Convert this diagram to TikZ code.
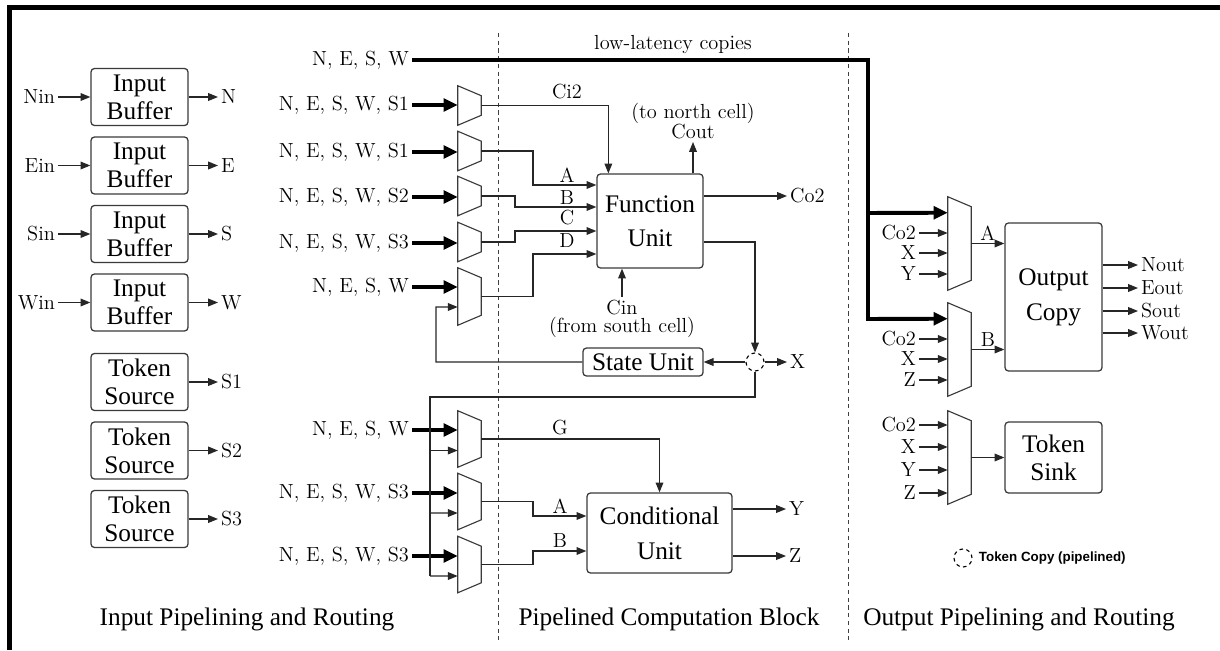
\documentclass[tikz,border=0pt]{standalone}
\usepackage{fontspec}
\newfontfamily\timesfont{Liberation Serif}
\newfontfamily\legendfont{Liberation Sans}
\usepackage{tikz}
\usetikzlibrary{arrows.meta, calc, positioning}
\definecolor{wirecol}{HTML}{262626}
\definecolor{boxline}{HTML}{3A3A3A}

\begin{document}
\begin{tikzpicture}[x=0.025cm, y=-0.025cm,
    box/.style={draw=boxline, rounded corners=2.5pt, line width=0.9pt, align=center, inner sep=0pt, font=\timesfont\fontsize{18}{20}\selectfont},
    lbl/.style={font=\fontsize{14.5}{16}\selectfont, inner sep=2pt},
    sectitle/.style={font=\timesfont\fontsize{18}{20}\selectfont, anchor=base},
    muxline/.style={draw=boxline, line width=0.8pt},
    mux/.style={minimum width=0.575cm, minimum height=#1, inner sep=0pt,
        append after command={\pgfextra{\draw[muxline] (\tikzlastnode.north west) -- ($(\tikzlastnode.north east)+(0,10)$) -- ($(\tikzlastnode.south east)+(0,-10)$) -- (\tikzlastnode.south west) -- cycle;}}},
    wire/.style={draw=wirecol, line width=0.8pt},
    arrow/.style={wire, -{Triangle[length=7pt, width=5.5pt]}},
    bus/.style={draw=black, line width=2.8pt},
    busarrow/.style={bus, -{Triangle[length=10pt, width=9pt]}},
    divider/.style={draw=black!75, line width=0.7pt, dash pattern=on 3pt off 2.5pt},
    tokcopy/.style={circle, draw=black, line width=0.8pt, dash pattern=on 2.5pt off 2.5pt, minimum size=0.45cm, inner sep=0pt}
]
\useasboundingbox (0,0) rectangle (1220,650);
% frame and section dividers
\draw[line width=3.6pt] (9.5,650) -- (9.5,7.5) -- (1220,7.5);
\draw[divider] (498,33) -- (498,640);
\draw[divider] (848,33) -- (848,640);

% input buffers and token sources
\node[box, minimum width=2.425cm, minimum height=1.425cm] (bufN) at (139.5,97) {Input\\Buffer};
\node[box, minimum width=2.425cm, minimum height=1.425cm] (bufE) at (139.5,165.5) {Input\\Buffer};
\node[box, minimum width=2.425cm, minimum height=1.425cm] (bufS) at (139.5,234) {Input\\Buffer};
\node[box, minimum width=2.425cm, minimum height=1.425cm] (bufW) at (139.5,302.5) {Input\\Buffer};
\node[box, minimum width=2.425cm, minimum height=1.425cm] (src1) at (139.5,382) {Token\\Source};
\node[box, minimum width=2.425cm, minimum height=1.425cm] (src2) at (139.5,450.5) {Token\\Source};
\node[box, minimum width=2.425cm, minimum height=1.425cm] (src3) at (139.5,519) {Token\\Source};

\node[lbl, anchor=east] (nin) at (58,97) {Nin};
\node[lbl, anchor=east] (ein) at (58,165.5) {Ein};
\node[lbl, anchor=east] (sin) at (58,234) {Sin};
\node[lbl, anchor=east] (win) at (58,302.5) {Win};
\node[lbl, anchor=west] (nbuf) at (218,97) {N};
\node[lbl, anchor=west] (ebuf) at (218,165.5) {E};
\node[lbl, anchor=west] (sbuf) at (218,234) {S};
\node[lbl, anchor=west] (wbuf) at (218,302.5) {W};
\node[lbl, anchor=west] (s1) at (218,382) {S1};
\node[lbl, anchor=west] (s2) at (218,450.5) {S2};
\node[lbl, anchor=west] (s3) at (218,519) {S3};

\draw[arrow] (nin) -- (bufN);
\draw[arrow] (ein) -- (bufE);
\draw[arrow] (sin) -- (bufS);
\draw[arrow] (win) -- (bufW);
\draw[arrow] (bufN) -- (nbuf);
\draw[arrow] (bufE) -- (ebuf);
\draw[arrow] (bufS) -- (sbuf);
\draw[arrow] (bufW) -- (wbuf);
\draw[arrow] (src1) -- (s1);
\draw[arrow] (src2) -- (s2);
\draw[arrow] (src3) -- (s3);

% routing muxes
\node[lbl, anchor=east] (lowin) at (412,60) {N, E, S, W};
\node[lbl] (lowlbl) at (673,45) {low-latency copies};
\node[lbl, anchor=east] (in1) at (412,105) {N, E, S, W, S1};
\node[lbl, anchor=east] (in2) at (412,152) {N, E, S, W, S1};
\node[lbl, anchor=east] (in3) at (412,197) {N, E, S, W, S2};
\node[lbl, anchor=east] (in4) at (412,243) {N, E, S, W, S3};
\node[lbl, anchor=east] (in5) at (412,287) {N, E, S, W};
\node[lbl, anchor=east] (in6) at (412,430) {N, E, S, W};
\node[lbl, anchor=east] (in7) at (412,493) {N, E, S, W, S3};
\node[lbl, anchor=east] (in8) at (412,556) {N, E, S, W, S3};

\node[mux=0.975cm] (mux1) at (469.5,105.5) {};
\node[mux=0.975cm] (mux2) at (469.5,151) {};
\node[mux=0.975cm] (mux3) at (469.5,196) {};
\node[mux=0.975cm] (mux4) at (469.5,242) {};
\node[mux=1.425cm] (mux5) at (469.5,296.5) {};
\node[mux=1.4cm] (mux6) at (469.5,439) {};
\node[mux=1.4cm] (mux7) at (469.5,501.5) {};
\node[mux=1.4cm] (mux8) at (469.5,564.5) {};

\draw[busarrow] (in1) -- (in1 -| mux1.west);
\draw[busarrow] (in2) -- (in2 -| mux2.west);
\draw[busarrow] (in3) -- (in3 -| mux3.west);
\draw[busarrow] (in4) -- (in4 -| mux4.west);
\draw[busarrow] (in5) -- (in5 -| mux5.west);
\draw[busarrow] (in6) -- (in6 -| mux6.west);
\draw[busarrow] (in7) -- (in7 -| mux7.west);
\draw[busarrow] (in8) -- (in8 -| mux8.west);

% function unit
\node[box, minimum width=2.65cm, minimum height=2.35cm] (func) at (650,221) {Function\\[4pt]Unit};
\node[box, minimum width=3cm, minimum height=0.7cm] (state) at (643,362) {State Unit};
\node[tokcopy] (copyX) at (755,362) {};

\node[lbl] (ci2) at (567,92) {Ci2};
\node[lbl] (fa) at (567,175) {A};
\node[lbl] (fb) at (567,198) {B};
\node[lbl] (fc) at (567,218) {C};
\node[lbl] (fd) at (567,241) {D};
\node[lbl, align=center, font=\fontsize{14.5}{14.2}\selectfont, anchor=south] (cout) at (693,142) {(to north cell)\\Cout};
\node[lbl, align=center, font=\fontsize{14.5}{13}\selectfont, anchor=north] (cin) at (622,297) {Cin\\(from south cell)};
\node[lbl, anchor=west] (co2) at (787,196) {Co2};
\node[lbl, anchor=west] (xout) at (787,362) {X};

\draw[arrow] (mux1.east) -| ($(func.north west)+(12,0)$);
\draw[arrow] (mux2.east) -| (533,185) -- ($(func.west)+(0,-36)$);
\draw[arrow] (mux3.east) -| (515,207) -- ($(func.west)+(0,-14)$);
\draw[arrow] (mux4.east) -| (515,231) -- ($(func.west)+(0,10)$);
\draw[arrow] (mux5.east) -| (533,254) -- ($(func.west)+(0,33)$);
\draw[arrow] (func.north -| cout) -- (cout);
\draw[arrow] (cin) -- (cin |- func.south);
\draw[arrow] ($(func.east)+(0,-25)$) -- (co2);
\draw[arrow] ($(func.east)+(0,21)$) -| (copyX);
\draw[arrow] (copyX) -- (xout);
\draw[arrow] (copyX) -- (state);
\draw[arrow] (state) -| (436,307) -- ($(mux5.west)+(0,10.5)$);

% conditional unit
\node[box, minimum width=3.625cm, minimum height=2cm] (cond) at (659.5,533) {Conditional\\[5pt]Unit};
\node[lbl] (cg) at (560,428) {G};
\node[lbl] (ca) at (560,506) {A};
\node[lbl] (cb) at (560,541) {B};
\node[lbl, anchor=west] (yout) at (786,509) {Y};
\node[lbl, anchor=west] (zout) at (786,556) {Z};

\draw[wire] (copyX) |- (430,397) -- (430,576);
\draw[arrow] (430,450.5) -- ($(mux6.west)+(0,11.5)$);
\draw[arrow] (430,513) -- ($(mux7.west)+(0,11.5)$);
\draw[arrow] (430,576) -- ($(mux8.west)+(0,11.5)$);
\draw[arrow] (mux6.east) -| (cond.north);
\draw[arrow] (mux7.east) -| (533,516) -- ($(cond.west)+(0,-17)$);
\draw[arrow] (mux8.east) -| (533,551) -- ($(cond.west)+(0,18)$);
\draw[arrow] ($(cond.east)+(0,-24)$) -- (yout);
\draw[arrow] ($(cond.east)+(0,23)$) -- (zout);

% output side
\node[mux=2.325cm] (muxA) at (959.5,243.5) {};
\node[mux=2.325cm] (muxB) at (959.5,349.5) {};
\node[mux=2.325cm] (muxC) at (959.5,457.5) {};
\node[box, minimum width=2.425cm, minimum height=3.7cm] (ocopy) at (1053.5,297) {Output\\[5pt]Copy};
\node[box, minimum width=2.425cm, minimum height=1.775cm] (sink) at (1053.5,457.5) {Token\\Sink};

\draw[busarrow] (lowin) -| (868,319) -- ($(muxB.north west)+(0,16)$);
\draw[busarrow] (868,213) -- ($(muxA.north west)+(0,16)$);

\node[lbl, anchor=east] (aco2) at (919,233) {Co2};
\node[lbl, anchor=east] (ax) at (919,253) {X};
\node[lbl, anchor=east] (ay) at (919,274) {Y};
\node[lbl, anchor=east] (bco2) at (919,339) {Co2};
\node[lbl, anchor=east] (bx) at (919,359) {X};
\node[lbl, anchor=east] (bz) at (919,380) {Z};
\node[lbl, anchor=east] (cco2) at (919,425) {Co2};
\node[lbl, anchor=east] (cx) at (919,447) {X};
\node[lbl, anchor=east] (cy) at (919,470) {Y};
\node[lbl, anchor=east] (cz) at (919,493) {Z};

\draw[arrow] (aco2) -- (aco2 -| muxA.west);
\draw[arrow] (ax) -- (ax -| muxA.west);
\draw[arrow] (ay) -- (ay -| muxA.west);
\draw[arrow] (bco2) -- (bco2 -| muxB.west);
\draw[arrow] (bx) -- (bx -| muxB.west);
\draw[arrow] (bz) -- (bz -| muxB.west);
\draw[arrow] (cco2) -- (cco2 -| muxC.west);
\draw[arrow] (cx) -- (cx -| muxC.west);
\draw[arrow] (cy) -- (cy -| muxC.west);
\draw[arrow] (cz) -- (cz -| muxC.west);

\draw[arrow] (muxA.east) -- node[lbl, above] (oa) {A} (muxA.east -| ocopy.west);
\draw[arrow] (muxB.east) -- node[lbl, above] (ob) {B} (muxB.east -| ocopy.west);
\draw[arrow] (muxC) -- (sink);

\node[lbl, anchor=west] (nout) at (1138,265) {Nout};
\node[lbl, anchor=west] (eout) at (1138,288) {Eout};
\node[lbl, anchor=west] (sout) at (1138,311) {Sout};
\node[lbl, anchor=west] (wout) at (1138,333) {Wout};
\draw[arrow] (nout -| ocopy.east) -- (nout);
\draw[arrow] (eout -| ocopy.east) -- (eout);
\draw[arrow] (sout -| ocopy.east) -- (sout);
\draw[arrow] (wout -| ocopy.east) -- (wout);

% legend and section titles
\node[tokcopy] (legcopy) at (963,558) {};
\node[anchor=west, font=\legendfont\bfseries\fontsize{9.5}{11}\selectfont] (legtext) at (974,558) {Token Copy (pipelined)};
\node[sectitle] (ipr) at (247,625) {Input Pipelining and Routing};
\node[sectitle] (pcb) at (669,625) {Pipelined Computation Block};
\node[sectitle] (opr) at (1019,625) {Output Pipelining and Routing};
\end{tikzpicture}
\end{document}
